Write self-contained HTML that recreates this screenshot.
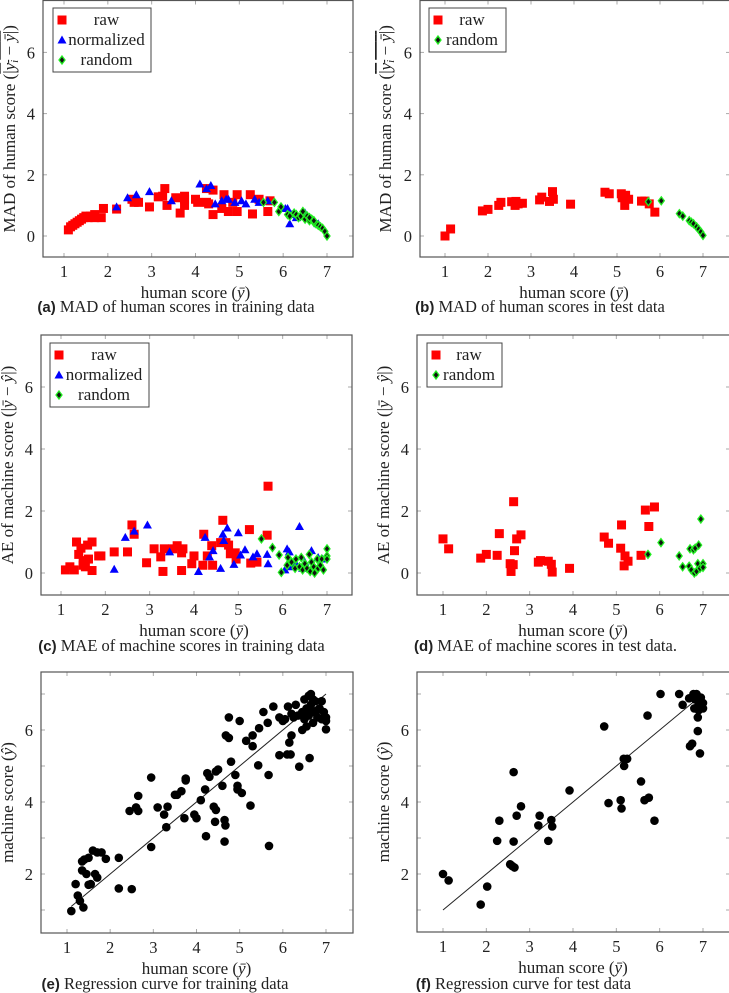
<!DOCTYPE html>
<html><head><meta charset="utf-8"><style>
body{margin:0;background:#fff}
svg{display:block}
text{font-family:"Liberation Serif",serif;fill:#222}
.capb{font-family:"Liberation Sans",sans-serif;font-weight:bold}
</style></head><body>
<svg id="fig" width="729" height="993" viewBox="0 0 729 993" xmlns="http://www.w3.org/2000/svg"></svg>
<script>
const aRawX=[1.1,1.15,1.2,1.25,1.3,1.35,1.4,1.45,1.5,1.55,1.6,1.7,1.7,1.9,1.85,2.2,2.55,2.6,2.7,2.95,3.15,3.25,3.3,3.35,3.55,3.65,3.75,3.75,3.75,4.0,4.05,4.25,4.3,4.25,4.4,4.4,4.6,4.65,4.75,4.85,4.95,4.95,5.25,5.3,5.45,5.65,5.7];
const aRawY=[0.2,0.3,0.35,0.4,0.45,0.5,0.55,0.6,0.65,0.6,0.65,0.7,0.6,0.9,0.6,0.88,1.2,1.1,1.1,0.95,1.28,1.3,1.55,1.0,1.25,0.75,1.3,1.0,1.2,1.2,1.1,1.1,1.05,1.55,1.5,0.7,0.9,1.35,0.8,1.1,1.35,0.8,1.35,0.72,1.2,0.8,1.15];
const aNormX=[2.2,2.45,2.65,2.95,3.45,4.1,4.25,4.35,4.45,4.6,4.7,4.75,4.9,5.05,5.15,5.35,5.45,5.65,6.05,6.1,6.15,6.2,6.3,6.5,6.6,6.8];
const aNormY=[0.95,1.25,1.35,1.45,1.15,1.7,1.55,1.65,1.05,1.15,1.2,1.2,1.1,1.15,1.05,1.2,1.1,1.15,0.9,0.9,0.4,0.7,0.6,0.75,0.6,0.4];
const aRandX=[5.55,5.8,5.9,5.95,6.1,6.15,6.25,6.3,6.35,6.4,6.45,6.5,6.55,6.6,6.65,6.7,6.75,6.8,6.85,6.9,6.95,7.0,6.6,6.7];
const aRandY=[1.1,1.1,0.8,0.95,0.7,0.65,0.75,0.7,0.6,0.65,0.8,0.55,0.65,0.5,0.55,0.45,0.4,0.35,0.3,0.25,0.15,0.0,0.6,0.5];
const bRawX=[1.0,1.13,1.87,2.0,2.25,2.3,2.55,2.63,2.65,2.7,2.8,3.2,3.25,3.43,3.5,3.52,3.92,4.72,4.82,5.1,5.12,5.18,5.2,5.27,5.57,5.65,5.75,5.88];
const bRawY=[0,0.23,0.82,0.87,1.0,1.1,1.12,1.0,1.13,1.05,1.07,1.18,1.27,1.13,1.45,1.2,1.04,1.43,1.38,1.38,1.25,1.0,1.33,1.2,1.14,1.14,1.05,0.78];
const bRandX=[5.73,6.03,6.45,6.53,6.68,6.73,6.78,6.85,6.9,6.95,7.0];
const bRandY=[1.12,1.15,0.73,0.65,0.5,0.45,0.4,0.3,0.22,0.13,0.02];
const cRawX=[1.1,1.2,1.3,1.35,1.4,1.45,1.5,1.5,1.55,1.6,1.62,1.7,1.7,1.85,1.9,2.2,2.5,2.6,2.65,2.93,3.1,3.25,3.3,3.33,3.52,3.62,3.72,3.72,3.75,3.95,4.0,4.2,4.22,4.3,4.4,4.42,4.6,4.65,4.72,4.78,4.82,4.93,4.95,5.25,5.28,5.42,5.65,5.67];
const cRawY=[0.1,0.2,0.1,1.0,0.6,0.8,0.4,0.25,0.2,0.9,0.45,1.0,0.08,0.55,0.55,0.68,0.68,1.55,1.25,0.33,0.78,0.52,0.05,0.78,0.78,0.88,0.65,0.08,0.78,0.3,0.55,0.25,1.25,0.55,0.88,0.25,0.98,1.7,0.98,0.9,0.62,0.65,0.45,1.4,0.32,0.35,1.22,2.8];
const cNormX=[2.2,2.45,2.65,2.95,3.45,4.1,4.25,4.35,4.43,4.6,4.65,4.67,4.75,4.9,5.0,5.05,5.15,5.33,5.42,5.65,5.67,6.05,6.1,6.15,6.18,6.3,6.38,6.45,6.5,6.65,6.7,6.8,6.9];
const cNormY=[0.12,1.15,1.35,1.55,0.68,0.05,1.15,0.52,0.72,0.15,1.25,1.05,1.45,0.28,1.3,0.58,0.75,0.52,0.62,0.6,0.3,0.1,0.78,0.68,0.2,0.3,1.5,0.15,0.35,0.72,0.2,0.5,0.45];
const cRandX=[5.52,5.77,5.92,5.97,6.1,6.12,6.2,6.28,6.3,6.38,6.42,6.45,6.5,6.55,6.6,6.62,6.65,6.7,6.72,6.78,6.8,6.85,6.88,6.92,7.0,7.0,7.0];
const cRandY=[1.1,0.82,0.58,0.02,0.25,0.5,0.35,0.15,0.45,0.2,0.5,0.1,0.3,0.15,0.6,0.05,0.35,0.2,0.0,0.45,0.15,0.25,0.45,0.1,0.78,0.55,0.45];
const dRawX=[1.0,1.13,1.87,2.0,2.25,2.3,2.55,2.57,2.62,2.63,2.65,2.7,2.8,3.2,3.25,3.43,3.5,3.52,3.92,4.72,4.82,5.1,5.12,5.18,5.2,5.27,5.57,5.67,5.75,5.88];
const dRawY=[1.1,0.78,0.48,0.6,0.57,1.27,0.3,0.05,0.27,2.3,0.72,1.1,1.23,0.35,0.4,0.38,0.28,0.03,0.15,1.16,0.96,0.8,1.55,0.23,0.55,0.38,0.57,2.03,1.5,2.13];
const dRandX=[5.73,6.03,6.45,6.53,6.68,6.7,6.73,6.78,6.8,6.82,6.85,6.88,6.9,6.93,6.95,7.0,7.0];
const dRandY=[0.6,0.98,0.55,0.2,0.22,0.78,0.1,0.75,0.0,0.8,0.05,0.3,0.9,0.15,1.74,0.3,0.18];
const eX=[1.1,1.2,1.25,1.3,1.35,1.38,1.35,1.4,1.45,1.5,1.5,1.55,1.6,1.65,1.7,1.7,1.8,1.9,2.2,2.2,2.45,2.5,2.6,2.65,2.65,2.95,2.95,3.1,3.25,3.3,3.33,3.5,3.55,3.65,3.72,3.75,3.75,3.95,4.0,4.1,4.2,4.22,4.25,4.3,4.4,4.43,4.45,4.45,4.5,4.6,4.65,4.67,4.65,4.68,4.75,4.75,4.8,4.9,4.95,4.95,5.0,5.05,5.15,5.25,5.3,5.3,5.43,5.45,5.55,5.65,5.67,5.68,5.78,5.92,5.92,6.0,6.05,6.1,6.12,6.15,6.18,6.2,6.2,6.25,6.3,6.35,6.38,6.45,6.45,6.5,6.5,6.55,6.55,6.6,6.6,6.62,6.65,6.65,6.7,6.7,6.75,6.8,6.85,6.9,6.9,6.95,7.0,7.0,7.0,6.8,6.7];
const eY=[0.97,1.72,1.4,1.25,2.1,1.07,2.35,2.4,2.0,2.45,1.7,1.72,2.65,2.0,1.9,2.6,2.6,2.42,1.6,2.45,3.75,1.58,3.85,3.75,4.17,2.75,4.68,3.85,3.65,3.3,3.87,4.2,4.2,4.3,3.55,4.6,4.65,3.65,3.55,4.05,4.35,3.05,4.8,4.7,3.87,3.45,3.78,4.85,4.9,4.45,3.5,3.35,2.9,5.85,5.78,6.35,5.12,4.75,4.45,4.35,6.25,4.25,5.7,3.9,5.55,5.85,5.02,6.05,6.5,6.2,4.75,2.78,6.65,5.3,6.35,6.25,6.3,5.32,6.65,5.65,5.32,5.85,6.45,6.35,6.7,6.4,4.98,6.5,6.0,6.85,6.3,6.6,6.1,6.95,6.4,5.22,7.0,6.7,6.2,6.5,6.8,6.35,6.6,6.8,6.3,6.5,6.35,6.25,6.02,6.55,6.85];
const fX=[1.0,1.13,1.87,2.02,2.25,2.3,2.55,2.6,2.63,2.63,2.65,2.7,2.8,3.2,3.23,3.43,3.5,3.52,3.92,4.72,4.82,5.1,5.12,5.17,5.18,5.25,5.57,5.65,5.72,5.75,5.88,6.02,6.45,6.53,6.68,6.7,6.75,6.78,6.8,6.82,6.85,6.88,6.88,6.9,6.93,6.95,7.0,7.0,6.9];
const fY=[2.0,1.82,1.15,1.65,2.92,3.48,2.27,2.22,2.9,4.83,2.18,3.62,3.88,3.35,3.62,2.92,3.5,3.32,4.32,6.1,3.97,4.05,3.82,5.2,5.0,5.2,4.57,4.05,6.4,4.12,3.48,7.0,7.0,6.7,6.88,5.55,5.62,7.0,6.6,6.85,7.0,6.35,5.97,6.7,5.35,6.9,6.75,6.6,6.55];
const xTicks=[1,2,3,4,5,6,7];
const yTicksErr=[0,2,4,6];
const yTicksReg=[2,4,6];
const eLine=[1.1,7.0];
const fLine=[1.0,6.8];

const NS="http://www.w3.org/2000/svg";
const svg=document.getElementById('fig');
function el(tag,attrs,parent){const e=document.createElementNS(NS,tag);for(const k in attrs)e.setAttribute(k,attrs[k]);(parent||svg).appendChild(e);return e;}

function panel(p){
  const g=el('g',{});
  
  
  const sx=v=>p.px1+(v-1)*(p.px7-p.px1)/6;
  const sy=v=>p.py0-(v-p.yref)*p.pyu;
  p.sx=sx;p.sy=sy;
  for(const t of xTicks){
    const x=sx(t);
    el('line',{x1:x,x2:x,y1:p.fy1,y2:p.fy1-4,stroke:'#aaa','stroke-width':1},g);
    el('line',{x1:x,x2:x,y1:p.fy0,y2:p.fy0+4,stroke:'#aaa','stroke-width':1},g);
    const tl=el('text',{x:x,y:p.fy1+20,'text-anchor':'middle','font-size':16.5},g);
    tl.textContent=t;
    
    
  }
  for(const t of p.yMinor){
    const y=sy(t);
    el('line',{x1:p.fx0,x2:p.fx0+4,y1:y,y2:y,stroke:'#aaa'},g);
    el('line',{x1:p.fx1,x2:p.fx1-4,y1:y,y2:y,stroke:'#aaa'},g);
  }
  for(const t of p.yTicks){
    const y=sy(t);
    el('line',{x1:p.fx0,x2:p.fx0+4,y1:y,y2:y,stroke:'#aaa'},g);
    el('line',{x1:p.fx1,x2:p.fx1-4,y1:y,y2:y,stroke:'#aaa'},g);
    const tl=el('text',{x:p.fx0-8,y:y+6,'text-anchor':'end','font-size':16.5},g);
    tl.textContent=t;
    
    
  }
  const fr=el('rect',{x:p.fx0,y:p.fy0,width:p.fx1-p.fx0,height:p.fy1-p.fy0,fill:'none',stroke:'#555','stroke-width':1.2},g);
  
  
  const xl=el('text',{x:(sx(1)+sx(7))/2,y:p.fy1+41,'text-anchor':'middle','font-size':17},g);
  xl.innerHTML='human score (<tspan font-style="italic">ȳ</tspan>)';
  
  
  const cy=(p.fy0+p.fy1)/2;
  const yl=el('text',{x:0,y:0,'text-anchor':'middle','font-size':17,transform:`translate(${p.ylx},${cy}) rotate(-90)`},g);
  yl.innerHTML=p.ylabel;
  
  
  if(p.caption){
    const c=el('text',{x:(p.fx0+p.fx1)/2+p.capdx,y:p.capy,'text-anchor':'middle','font-size':16.5},g);
    c.innerHTML='<tspan class="capb" font-size="15">'+p.caplet+'</tspan> '+p.caption;
    
    
  }
  return g;
}
function square(g,x,y){const r=el('rect',{x:x-4.5,y:y-4.5,width:9,height:9,fill:'#f00'},g);}
function tri(g,x,y){const r=el('polygon',{points:`${x},${y-4.5} ${x-4.5},${y+3.5} ${x+4.5},${y+3.5}`,fill:'#00f'},g);}
function diam(g,x,y){const r=el('polygon',{points:`${x},${y-4} ${x+3},${y} ${x},${y+4} ${x-3},${y}`,fill:'#111',stroke:'#2e2','stroke-width':1.3},g);}
function dot(g,x,y){const r=el('circle',{cx:x,cy:y,r:4.3,fill:'#000'},g);}
function legend(g,x,y,w,items){
  const lg=el('g',{},g);
  
  
  el('rect',{x:x,y:y,width:w,height:items.length*20+4,fill:'#fff',stroke:'#444','stroke-width':1},lg);
  items.forEach((it,i)=>{
    const yy=y+12+i*20;
    it[0](lg,x+9,yy);
    const t=el('text',{x:x+9+(w-9)/2,y:yy+5,'text-anchor':'middle','font-size':17},lg);
    t.textContent=it[1];
    
    
  });
}
function scatter(g,p,xs,ys,fn){xs.forEach((v,i)=>fn(g,p.sx(v),p.sy(ys[i])));}

const madLabel='MAD of human score (<tspan text-decoration="overline">|<tspan font-style="italic">y<tspan font-size="11" dy="3">i</tspan></tspan><tspan dy="-3"> − </tspan><tspan font-style="italic">ȳ</tspan>|</tspan>)';
const aeLabel='AE of machine score (|<tspan font-style="italic">ȳ</tspan> − <tspan font-style="italic">ŷ</tspan>|)';
const regLabel='machine score (<tspan font-style="italic">ŷ</tspan>)';

const P={
 a:{name:'panel-a',fx0:43,fx1:353,fy0:0.5,fy1:257,px1:64,px7:327,py0:236,yref:0,pyu:30.6,yTicks:yTicksErr,yMinor:[],ylx:15,ylabel:madLabel,caplet:'(a)',caption:'MAD of human scores in training data',capy:312,capdx:-22},
 b:{name:'panel-b',fx0:420,fx1:730,fy0:0.5,fy1:257,px1:445,px7:703,py0:236,yref:0,pyu:30.6,yTicks:yTicksErr,yMinor:[],ylx:391,ylabel:madLabel,caplet:'(b)',caption:'MAD of human scores in test data',capy:312,capdx:-35},
 c:{name:'panel-c',fx0:41,fx1:352,fy0:335,fy1:595,px1:61,px7:327,py0:573,yref:0,pyu:31,yTicks:yTicksErr,yMinor:[],ylx:13,ylabel:aeLabel,caplet:'(c)',caption:'MAE of machine scores in training data',capy:651,capdx:-15},
 d:{name:'panel-d',fx0:417,fx1:730,fy0:335,fy1:595,px1:443,px7:703,py0:573,yref:0,pyu:31,yTicks:yTicksErr,yMinor:[],ylx:389,ylabel:aeLabel,caplet:'(d)',caption:'MAE of machine scores in test data.',capy:651,capdx:-28},
 e:{name:'panel-e',fx0:41,fx1:353,fy0:672,fy1:933,px1:67,px7:326,py0:874,yref:2,pyu:36,yTicks:yTicksReg,yMinor:[1,3,5,7],ylx:13,ylabel:regLabel,caplet:'(e)',caption:'Regression curve for training data',capy:989,capdx:-32},
 f:{name:'panel-f',fx0:417,fx1:730,fy0:672,fy1:932,px1:443,px7:703,py0:874,yref:2,pyu:36,yTicks:yTicksReg,yMinor:[1,3,5,7],ylx:389,ylabel:regLabel,caplet:'(f)',caption:'Regression curve for test data',capy:989,capdx:-50}
};
for(const k in P){P[k].g=panel(P[k]);}
scatter(P.a.g,P.a,aRawX,aRawY,square);scatter(P.a.g,P.a,aNormX,aNormY,tri);scatter(P.a.g,P.a,aRandX,aRandY,diam);
legend(P.a.g,53,8,98,[[square,'raw'],[tri,'normalized'],[diam,'random']]);
scatter(P.b.g,P.b,bRawX,bRawY,square);scatter(P.b.g,P.b,bRandX,bRandY,diam);
legend(P.b.g,429,8,77,[[square,'raw'],[diam,'random']]);
scatter(P.c.g,P.c,cRawX,cRawY,square);scatter(P.c.g,P.c,cNormX,cNormY,tri);scatter(P.c.g,P.c,cRandX,cRandY,diam);
legend(P.c.g,50,343,99,[[square,'raw'],[tri,'normalized'],[diam,'random']]);
scatter(P.d.g,P.d,dRawX,dRawY,square);scatter(P.d.g,P.d,dRandX,dRandY,diam);
legend(P.d.g,427,343,75,[[square,'raw'],[diam,'random']]);
let ln=el('line',{x1:P.e.sx(eLine[0]),y1:P.e.sy(eLine[0]),x2:P.e.sx(eLine[1]),y2:P.e.sy(eLine[1]),stroke:'#222','stroke-width':1},P.e.g);


scatter(P.e.g,P.e,eX,eY,dot);
ln=el('line',{x1:P.f.sx(fLine[0]),y1:P.f.sy(fLine[0]),x2:P.f.sx(fLine[1]),y2:P.f.sy(fLine[1]),stroke:'#222','stroke-width':1},P.f.g);


scatter(P.f.g,P.f,fX,fY,dot);
</script>
</body></html>
